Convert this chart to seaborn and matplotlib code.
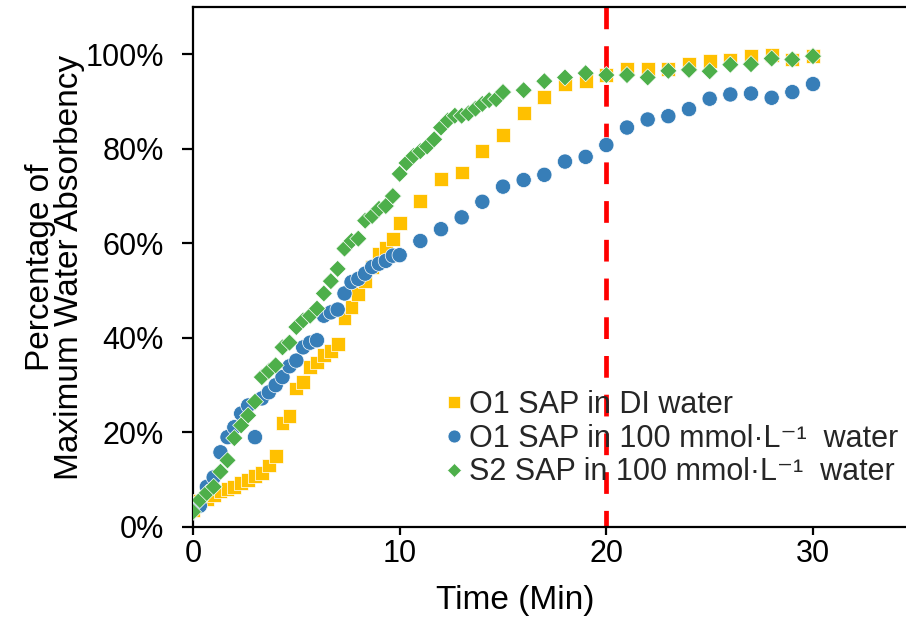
import matplotlib
matplotlib.use("Agg")
import matplotlib.pyplot as plt
import seaborn as sns
import pandas as pd
from matplotlib.ticker import FuncFormatter

# ---------------- data ----------------
early_time = [0, 0.33, 0.67, 1.0, 1.33, 1.67, 2.0, 2.33, 2.67, 3.0, 3.33, 3.67,
              4.0, 4.33, 4.67, 5.0, 5.33, 5.67, 6.0, 6.33, 6.67, 7.0, 7.33, 7.67,
              8.0, 8.33, 8.67, 9.0, 9.33, 9.67, 10.0]
late_time = [11, 12, 13, 14, 15, 16, 17, 18, 19, 20, 21, 22, 23, 24, 25, 26,
             27, 28, 29, 30]
s2_mid_time = [10.33, 10.67, 11.0, 11.33, 11.67, 12.0, 12.33, 12.67, 13.0,
               13.33, 13.67, 14.0, 14.33, 14.67, 15.0]
s2_late_time = [16, 17, 18, 19, 20, 21, 22, 23, 24, 25, 26, 27, 28, 29, 30]

o1_di_pct = [3.5, 5.5, 6.0, 6.8, 7.5, 8.0, 8.5, 9.3, 10.0, 10.8, 11.5, 13.0,
             15.0, 22.0, 23.5, 29.3, 30.7, 33.8, 34.8, 36.3, 37.3, 38.8, 44.3,
             46.5, 49.3, 52.0, 55.0, 57.8, 59.0, 61.0, 64.3,
             69.0, 73.6, 75.0, 79.5, 83.0, 87.5, 91.0, 93.6, 94.3, 95.6, 96.8,
             96.8, 96.8, 97.9, 98.5, 98.9, 99.6, 99.8, 98.9, 99.6]
o1_salt_pct = [4.0, 4.5, 8.5, 10.5, 15.8, 19.0, 21.1, 24.0, 25.7, 19.0, 27.2,
               28.5, 30.0, 31.7, 34.0, 35.2, 38.0, 39.0, 39.5, 44.7, 45.4, 46.0,
               49.4, 51.8, 52.5, 53.6, 55.0, 55.7, 56.3, 57.4, 57.5,
               60.5, 63.0, 65.5, 68.8, 72.0, 73.4, 74.5, 77.3, 78.3, 80.8, 84.5,
               86.2, 86.9, 88.4, 90.6, 91.5, 91.7, 90.8, 92.0, 93.7]
s2_salt_pct = [3.2, 5.7, 7.2, 8.5, 11.7, 14.1, 18.8, 21.5, 23.6, 26.5, 31.7,
               33.0, 34.2, 38.0, 39.0, 42.3, 43.7, 44.7, 46.2, 49.4, 52.0, 54.6,
               58.9, 60.5, 61.0, 64.8, 65.8, 67.3, 67.9, 70.0, 74.7,
               77.0, 78.5, 79.5, 80.5, 82.0, 84.5, 86.0, 87.0, 87.0, 87.5, 88.5,
               89.5, 90.3, 90.5, 92.0,
               92.4, 94.3, 95.1, 96.0, 95.6, 95.6, 95.1, 96.5, 96.7, 96.4, 97.8,
               97.9, 99.1, 98.9, 99.6]

series_names = ["O1 SAP in DI water",
                "O1 SAP in 100 mmol·L\u207b\u00b9  water",
                "S2 SAP in 100 mmol·L\u207b\u00b9  water"]
cutoff_time = 20
x_ticks = [0, 10, 20, 30]
y_ticks = [0, 20, 40, 60, 80, 100]

# ---------------- build long table ----------------
times = [early_time + late_time,
         early_time + late_time,
         early_time + s2_mid_time + s2_late_time]
values = [o1_di_pct, o1_salt_pct, s2_salt_pct]
rows = []
for name, t, v in zip(series_names, times, values):
    for ti, vi in zip(t, v):
        rows.append({"Time": ti, "Pct": vi, "Series": name})
df = pd.DataFrame(rows)

# ---------------- style ----------------
sns.set_style("white")
plt.rcParams["font.family"] = ["Liberation Sans", "DejaVu Sans"]

palette = {series_names[0]: "#FFC000",
           series_names[1]: "#377EB8",
           series_names[2]: "#4DAF4A"}
markers = {series_names[0]: "s",
           series_names[1]: "o",
           series_names[2]: "D"}
sizes = {series_names[0]: 100,
         series_names[1]: 120,
         series_names[2]: 76}

fig = plt.figure(figsize=(9.06, 6.21), dpi=100)
ax = fig.add_axes([193 / 906, 1 - 527 / 621, 1 - 193 / 906, (527 - 7) / 621])

ax.axvline(cutoff_time, ymin=1, ymax=0, color="#FF0000", lw=3.4,
           dashes=(4.6, 3.6), zorder=1)

sns.scatterplot(data=df, x="Time", y="Pct", hue="Series", style="Series",
                size="Series", palette=palette, markers=markers, sizes=sizes,
                edgecolor="white", linewidth=0.5, ax=ax, zorder=3)

ax.set_xlim(0, 34.5)
ax.set_ylim(0, 110)
ax.set_xticks(x_ticks)
ax.set_yticks(y_ticks)
ax.yaxis.set_major_formatter(FuncFormatter(lambda v, p: f"{v:.0f}%"))

for side in ["left", "bottom", "top"]:
    ax.spines[side].set_visible(True)
    ax.spines[side].set_color("black")
    ax.spines[side].set_linewidth(1.6)
ax.spines["right"].set_visible(False)

ax.tick_params(axis="both", which="major", direction="out", color="black",
               width=1.6, labelsize=22, labelcolor="black")
ax.tick_params(axis="y", length=8, pad=13)
ax.tick_params(axis="x", length=6, pad=3)
ax.xaxis.set_ticks_position("bottom")
ax.yaxis.set_ticks_position("left")

ax.set_xlabel("Time (Min)", fontsize=24, color="black")
ax.xaxis.set_label_coords(0.452, -0.112)
ax.xaxis.label.set_va("top")
ax.set_ylabel("Percentage of\nMaximum Water Absorbency", fontsize=24,
              color="black", linespacing=0.95)
ax.yaxis.set_label_coords(-0.151, 0.5)

handles, labels = ax.get_legend_handles_labels()
ax.legend(handles=handles, labels=labels, loc="upper left",
          bbox_to_anchor=(445 / 906, 1 - 390 / 621),
          bbox_transform=fig.transFigure, frameon=False, fontsize=22,
          handlelength=0.6, handletextpad=0.2, labelspacing=0.12,
          borderpad=0, borderaxespad=0, markerscale=0.85)

fig.savefig("out.png", dpi=100)
